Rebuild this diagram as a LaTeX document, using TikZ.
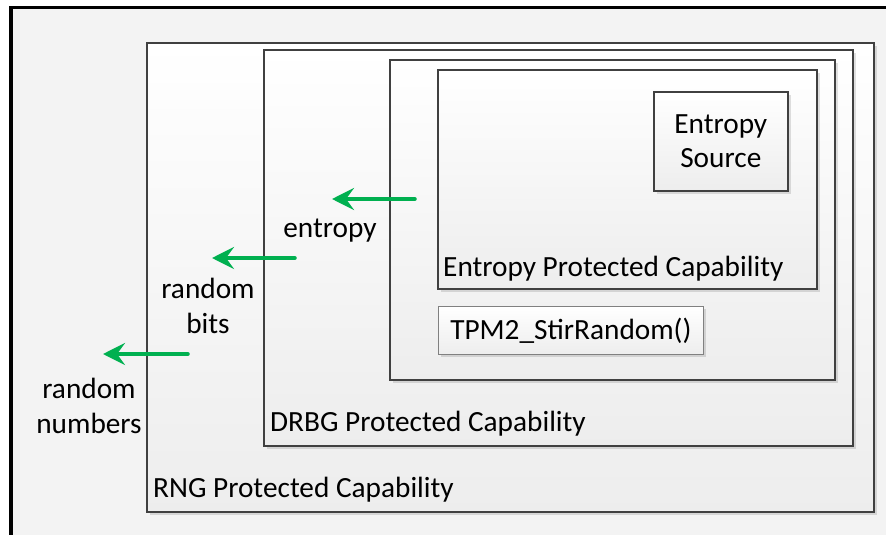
\documentclass[tikz,border=0pt]{standalone}
\usepackage{fontspec}
\setmainfont{Carlito}
\usetikzlibrary{arrows.meta,shadows}
\definecolor{flowgreen}{HTML}{00B050}
\definecolor{boxline}{HTML}{404040}
\definecolor{paper}{HTML}{F3F3F3}
\tikzset{
        capbox/.style={draw=boxline, line width=1.6pt, anchor=north west, inner sep=0pt,
                top color=white, bottom color=black!7,
                drop shadow={shadow xshift=3pt, shadow yshift=-3pt, fill=black, opacity=0.12}},
        flow/.style={draw=flowgreen, line width=3.5pt, line cap=round,
                -{Stealth[length=22pt,width=22pt,inset=8pt]}},
        lbl/.style={font=\fontsize{29.3}{34.5}\selectfont, inner sep=0pt, align=center}
    }
\begin{document}
\begin{tikzpicture}[x=1pt,y=-1pt]
        \useasboundingbox (0,0) rectangle (886,535);
        \fill[paper] (11,7.5) rectangle (886,535);
        \draw[line width=3.5pt] (11,535) -- (11,7.5) -- (886,7.5);
        % nested capability boxes
        \foreach \n/\l/\t/\r/\b in {rng/146/42/873/511, drbg/263/49/852/445, stir/389/59/834/379, ent/437/69/816/288} {
                \node[capbox, minimum width={(\r-\l)*1pt}, minimum height={(\b-\t)*1pt}] (\n) at (\l,\t) {};
            }
        \node[capbox, minimum width=134pt, minimum height=99pt] (src) at (653,91) {};
        \node[lbl] (srctext) at (src.center) {Entropy\\Source};
        \node[capbox, draw=black!50, line width=0.8pt, minimum width=265pt, minimum height=48pt] (call) at (438,306) {};
        \node[lbl] (calltext) at (call.center) {TPM2\_StirRandom()};
        \node[lbl, anchor=base west] (entlbl) at (443,276) {Entropy Protected Capability};
        \node[lbl, anchor=base west] (drbglbl) at (270,431) {DRBG Protected Capability};
        \node[lbl, anchor=base west] (rnglbl) at (153,497) {RNG Protected Capability};
        % outputs
        \foreach \n/\xa/\xb/\y in {entropy/415/332/199, bits/295/212/258, numbers/188/103/354} {
                \coordinate (\n from) at (\xa,\y);
                \coordinate (\n to) at (\xb,\y);
                \draw[flow] (\n from) -- (\n to);
            }
        \node[lbl, anchor=base] (entropy) at (330,237) {entropy};
        \node[lbl, anchor=base] (bits) at (208,333) {random\\bits};
        \node[lbl, anchor=base] (numbers) at (89,433) {random\\numbers};
    \end{tikzpicture}
\end{document}
